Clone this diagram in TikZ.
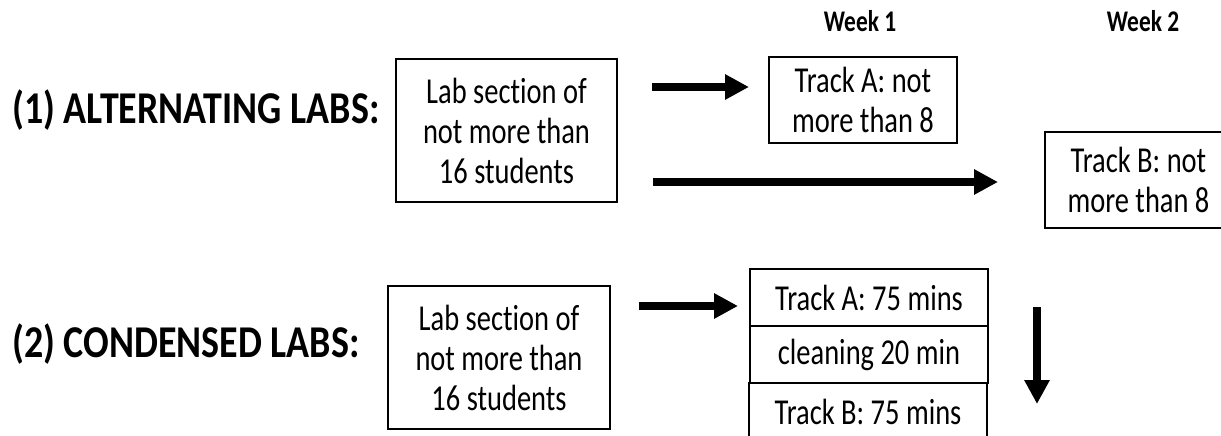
\documentclass[tikz,border=0pt]{standalone}
\usepackage{fontspec}
\setmainfont{Carlito}[FakeStretch=0.78, Ligatures=NoCommon]
\newfontfamily\headfont{Carlito}[FakeStretch=0.835, Ligatures=NoCommon]
\usetikzlibrary{arrows.meta}
\begin{document}
\begin{tikzpicture}[x=1pt,y=-1pt,
  box/.style={draw, line width=1.2pt, inner sep=0pt, align=center,
    font=\fontsize{36.5}{40}\selectfont},
  lbl/.style={inner sep=0pt, anchor=base west,
    font=\headfont\fontsize{45.5}{50}\selectfont\bfseries},
  wk/.style={inner sep=0pt, anchor=base,
    font=\fontsize{30}{34}\selectfont\bfseries},
  bigarrow/.style={line width=8pt, -{Triangle[length=24pt,width=24pt]}}]
\useasboundingbox (0,0) rectangle (1221,436);
\clip (0,0) rectangle (1221,436);

% headings
\node[lbl] (alt) at (12,123) {(1) ALTERNATING LABS:};
\node[lbl] (cond) at (12,357) {(2) CONDENSED LABS:};
\node[wk] (w1) at (860,32) {Week 1};
\node[wk] (w2) at (1143,32) {Week 2};

% alternating labs
\node[box, minimum width=221pt, minimum height=143pt] (lab1) at (506.5,130.5)
  {Lab section of\\not more than\\16 students};
\node[box, minimum width=188pt, minimum height=86pt] (trackA) at (863,100)
  {Track A: not\\more than 8};
\node[box, minimum width=187pt, minimum height=96pt] (trackB) at (1138.5,180)
  {Track B: not\\more than 8};

\coordinate (a1s) at (652,87);
\coordinate (a1e) at (749,87);
\coordinate (a2s) at (653,182);
\coordinate (a2e) at (998,182);
\draw[bigarrow] (a1s) -- (a1e);
\draw[bigarrow] (a2s) -- (a2e);

% condensed labs
\node[box, minimum width=222pt, minimum height=143pt] (lab2) at (499,357.5)
  {Lab section of\\not more than\\16 students};
\node[box, minimum width=238pt, minimum height=57pt] (sA) at (869,297.5)
  {Track A: 75 mins};
\node[box, minimum width=238pt, minimum height=57pt] (sC) at (869,354.5)
  {cleaning 20 min};
\node[box, minimum width=238pt, minimum height=57pt] (sB) at (868,411.5)
  {Track B: 75 mins};

\coordinate (a3s) at (639,306);
\coordinate (a3e) at (738,306);
\coordinate (a4s) at (1037,307);
\coordinate (a4e) at (1037,404);
\draw[bigarrow] (a3s) -- (a3e);
\draw[bigarrow] (a4s) -- (a4e);
\end{tikzpicture}
\end{document}
